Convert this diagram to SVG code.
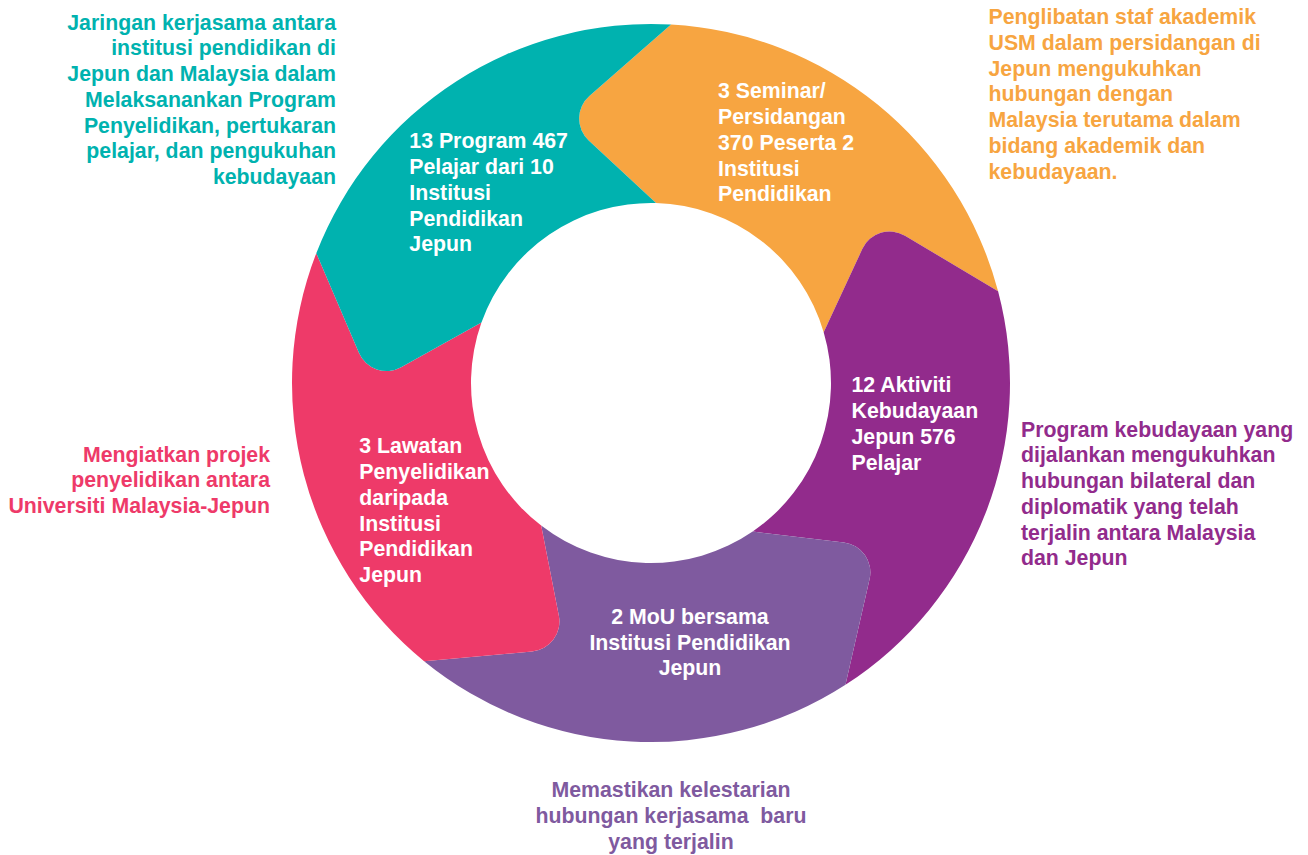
<svg xmlns="http://www.w3.org/2000/svg" width="1308" height="855" viewBox="0 0 1308 855">
<style>
text { font-family: "Liberation Sans", Arial, Helvetica, sans-serif; font-weight: bold; font-size: 21.3px; }
.in { fill: #ffffff; }
.teal { fill: #00B2AF; }
.orange { fill: #F7A541; }
.purple { fill: #922B8C; }
.lav { fill: #7F5A9F; }
.pink { fill: #EE3A69; }
.end { text-anchor: end; }
.mid { text-anchor: middle; }
</style>
<defs>
<path id="seg" d="M 5.012 -358.965 A 359 359 0 0 1 342.945 -106.159 L 247.623 -157.816 A 30 30 0 0 0 205.594 -142.921 L 170.397 -58.008 A 180 180 0 0 0 -2.513 -179.982 L -72.393 -239.696 A 30 30 0 0 1 -73.572 -284.271 Z"/>
</defs>
<rect x="0" y="0" width="1308" height="855" fill="#ffffff"/>

<g id="node-seminar">
<use href="#seg" class="orange" transform="translate(651 383) rotate(2.4)"/>
<text class="in"><tspan x="718" y="98.3">3 Seminar/</tspan><tspan x="718" y="124">Persidangan</tspan><tspan x="718" y="149.8">370 Peserta 2</tspan><tspan x="718" y="175.5">Institusi</tspan><tspan x="718" y="201.3">Pendidikan</tspan></text>
<text class="orange"><tspan x="988.5" y="24">Penglibatan staf akademik</tspan><tspan x="988.5" y="49.8">USM dalam persidangan di</tspan><tspan x="988.5" y="75.5">Jepun mengukuhkan</tspan><tspan x="988.5" y="101.3">hubungan dengan</tspan><tspan x="988.5" y="127">Malaysia terutama dalam</tspan><tspan x="988.5" y="152.8">bidang akademik dan</tspan><tspan x="988.5" y="178.5">kebudayaan.</tspan></text>
</g>

<g id="node-kebudayaan">
<use href="#seg" class="purple" transform="translate(651 383) rotate(74.4)"/>
<text class="in"><tspan x="851.5" y="392.3">12 Aktiviti</tspan><tspan x="851.5" y="418">Kebudayaan</tspan><tspan x="851.5" y="443.8">Jepun 576</tspan><tspan x="851.5" y="469.5">Pelajar</tspan></text>
<text class="purple"><tspan x="1021" y="436.7">Program kebudayaan yang</tspan><tspan x="1021" y="462.4">dijalankan mengukuhkan</tspan><tspan x="1021" y="488.2">hubungan bilateral dan</tspan><tspan x="1021" y="513.9">diplomatik yang telah</tspan><tspan x="1021" y="539.7">terjalin antara Malaysia</tspan><tspan x="1021" y="565.4">dan Jepun</tspan></text>
</g>

<g id="node-mou">
<use href="#seg" class="lav" transform="translate(651 383) rotate(146.4)"/>
<text class="in mid"><tspan x="690" y="624">2 MoU bersama</tspan><tspan x="690" y="649.5">Institusi Pendidikan</tspan><tspan x="690" y="675.3">Jepun</tspan></text>
<text class="lav mid" style="white-space:pre"><tspan x="671" y="797.3">Memastikan kelestarian</tspan><tspan x="671" y="823">hubungan kerjasama  baru</tspan><tspan x="671" y="848.8">yang terjalin</tspan></text>
</g>

<g id="node-lawatan">
<use href="#seg" class="pink" transform="translate(651 383) rotate(218.4)"/>
<text class="in"><tspan x="359.3" y="453.3">3 Lawatan</tspan><tspan x="359.3" y="479">Penyelidikan</tspan><tspan x="359.3" y="504.8">daripada</tspan><tspan x="359.3" y="530.5">Institusi</tspan><tspan x="359.3" y="556.3">Pendidikan</tspan><tspan x="359.3" y="582">Jepun</tspan></text>
<text class="pink end"><tspan x="270" y="461.7">Mengiatkan projek</tspan><tspan x="270" y="487.4">penyelidikan antara</tspan><tspan x="270" y="513.2">Universiti Malaysia-Jepun</tspan></text>
</g>

<g id="node-program">
<use href="#seg" class="teal" transform="translate(651 383) rotate(290.4)"/>
<text class="in"><tspan x="409.3" y="148.3">13 Program 467</tspan><tspan x="409.3" y="174">Pelajar dari 10</tspan><tspan x="409.3" y="199.8">Institusi</tspan><tspan x="409.3" y="225.5">Pendidikan</tspan><tspan x="409.3" y="251.3">Jepun</tspan></text>
<text class="teal end"><tspan x="336" y="29.5">Jaringan kerjasama antara</tspan><tspan x="336" y="55.3">institusi pendidikan di</tspan><tspan x="336" y="81">Jepun dan Malaysia dalam</tspan><tspan x="336" y="106.8">Melaksanankan Program</tspan><tspan x="336" y="132.5">Penyelidikan, pertukaran</tspan><tspan x="336" y="158.3">pelajar, dan pengukuhan</tspan><tspan x="336" y="184">kebudayaan</tspan></text>
</g>

<g id="connectors"></g>
</svg>
